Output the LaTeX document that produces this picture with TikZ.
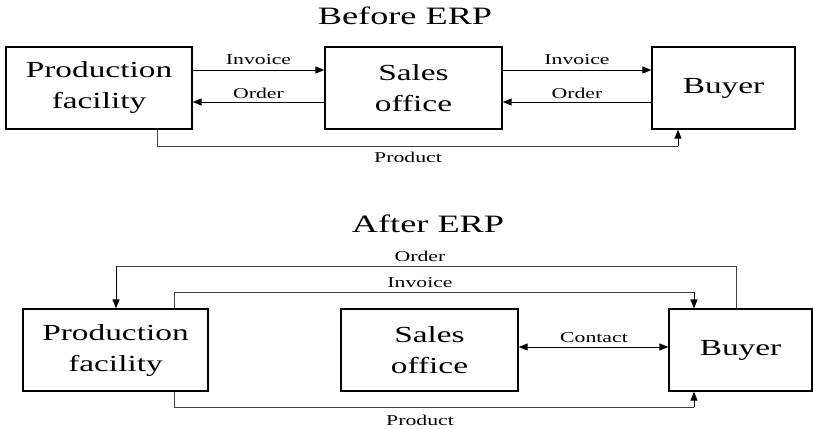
\documentclass[tikz,border=0pt]{standalone}
\usepackage{fontspec}
\setmainfont[FakeStretch=1.45]{Liberation Serif}
\usetikzlibrary{arrows.meta}
\begin{document}
\begin{tikzpicture}[x=1pt,y=-1pt,
  >={Triangle[length=9pt,width=7pt]},
  box/.style={draw=black,line width=1.3pt,minimum height=82pt,inner sep=0pt,
    align=center,font=\fontsize{23}{31}\selectfont},
  link/.style={line width=1pt,->},
  wire/.style={line width=0.8pt,draw=black!75},
  lab/.style={font=\fontsize{15}{17}\selectfont,inner sep=0pt},
  ttl/.style={font=\fontsize{25}{28}\selectfont,inner sep=0pt}]
\useasboundingbox (0,0) rectangle (813,428);

% ---- Before ERP ----
\node[ttl] (t1) at (405,16) {Before ERP};
\node[box,minimum width=186pt] (pf1) at (99,88) {Production\\facility};
\node[box,minimum width=177pt] (so1) at (413.5,88) {Sales\\office};
\node[box,minimum width=143pt] (by1) at (723.5,88) {Buyer};

\coordinate (r1) at (0,70);
\coordinate (r2) at (0,102);
\draw[link] (pf1.east |- r1) -- (so1.west |- r1);
\draw[link] (so1.west |- r2) -- (pf1.east |- r2);
\draw[link] (so1.east |- r1) -- (by1.west |- r1);
\draw[link] (by1.west |- r2) -- (so1.east |- r2);
\node[lab] at (258.5,60) {Invoice};
\node[lab] at (258.5,93) {Order};
\node[lab] at (577,60) {Invoice};
\node[lab] at (577,93) {Order};

\coordinate (pa) at (157,146);
\coordinate (pb) at (678,146);
\draw[wire] (pf1.south -| pa) -- (pa) -- (pb);
\draw[link] (pb) -- (by1.south -| pb);
\node[lab] at (408,157) {Product};

% ---- After ERP ----
\node[ttl] (t2) at (428,224) {After ERP};
\node[box,minimum width=185pt] (pf2) at (115.5,350) {Production\\facility};
\node[box,minimum width=177pt] (so2) at (429.5,350) {Sales\\office};
\node[box,minimum width=143pt] (by2) at (740.5,350) {Buyer};

% order: buyer -> production facility, over the top
\coordinate (oa) at (736,266);
\coordinate (ob) at (116,266);
\draw[wire] (by2.north -| oa) -- (oa) -- (ob);
\draw[link] (ob) -- (pf2.north -| ob);
\node[lab] at (420,256) {Order};

% invoice: production facility -> buyer
\coordinate (ia) at (174,292);
\coordinate (ib) at (694,292);
\draw[wire] (pf2.north -| ia) -- (ia) -- (ib);
\draw[link] (ib) -- (by2.north -| ib);
\node[lab] at (420,283) {Invoice};

% contact between sales office and buyer
\coordinate (ca) at (0,347);
\draw[line width=1pt,<->] (so2.east |- ca) -- (by2.west |- ca);
\node[lab] at (594,338) {Contact};

% product: production facility -> buyer, underneath
\coordinate (pc) at (174,407);
\coordinate (pd) at (694,407);
\draw[wire] (pf2.south -| pc) -- (pc) -- (pd);
\draw[link] (pd) -- (by2.south -| pd);
\node[lab] at (420,420) {Product};
\end{tikzpicture}
\end{document}
